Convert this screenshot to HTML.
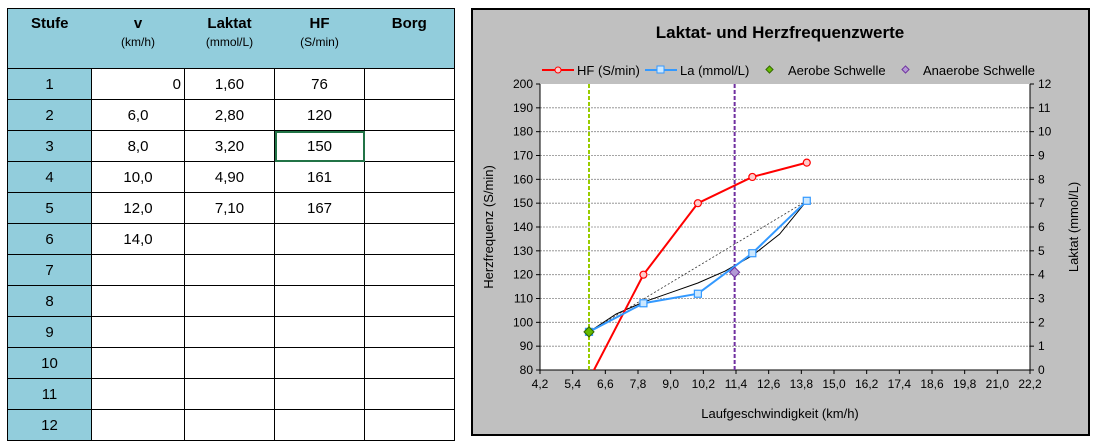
<!DOCTYPE html>
<html><head><meta charset="utf-8"><style>
body{margin:0;width:1098px;height:446px;background:#fff;font-family:"Liberation Sans",sans-serif;position:relative;overflow:hidden}
table{position:absolute;left:7px;top:8px;border-collapse:collapse;}
td{border:1px solid #000;height:30px;padding:0;text-align:center;font-size:15px;}
td.s{background:#92CDDC;width:83px}
td.c{width:89px}
tr.h td{background:#92CDDC;height:53px;vertical-align:top;font-weight:bold;font-size:15px;padding-top:6px;border-bottom:1px solid #000;border-left:none;border-right:none}
tr.h td:first-child{border-left:1px solid #000}
tr.h td:last-child{border-right:1px solid #000}
tr.h small{display:block;font-weight:normal;font-size:12px;margin-top:3px}
td.sel{outline:2px solid #217346;outline-offset:-2px}
</style></head><body>
<table>
<tr class="h"><td>Stufe</td><td>v<small>(km/h)</small></td><td>Laktat<small>(mmol/L)</small></td><td>HF<small>(S/min)</small></td><td>Borg</td></tr>
<tr><td class="s">1</td><td class="c" style="text-align:right;padding-right:3px">0</td><td class="c">1,60</td><td class="c">76</td><td class="c"></td></tr>
<tr><td class="s">2</td><td class="c">6,0</td><td class="c">2,80</td><td class="c">120</td><td class="c"></td></tr>
<tr><td class="s">3</td><td class="c">8,0</td><td class="c">3,20</td><td class="c sel">150</td><td class="c"></td></tr>
<tr><td class="s">4</td><td class="c">10,0</td><td class="c">4,90</td><td class="c">161</td><td class="c"></td></tr>
<tr><td class="s">5</td><td class="c">12,0</td><td class="c">7,10</td><td class="c">167</td><td class="c"></td></tr>
<tr><td class="s">6</td><td class="c">14,0</td><td class="c"></td><td class="c"></td><td class="c"></td></tr>
<tr><td class="s">7</td><td class="c"></td><td class="c"></td><td class="c"></td><td class="c"></td></tr>
<tr><td class="s">8</td><td class="c"></td><td class="c"></td><td class="c"></td><td class="c"></td></tr>
<tr><td class="s">9</td><td class="c"></td><td class="c"></td><td class="c"></td><td class="c"></td></tr>
<tr><td class="s">10</td><td class="c"></td><td class="c"></td><td class="c"></td><td class="c"></td></tr>
<tr><td class="s">11</td><td class="c"></td><td class="c"></td><td class="c"></td><td class="c"></td></tr>
<tr><td class="s">12</td><td class="c"></td><td class="c"></td><td class="c"></td><td class="c"></td></tr>
</table>
<svg id="chart" width="1098" height="446" style="position:absolute;left:0;top:0" font-family="Liberation Sans, sans-serif">
<rect x="472" y="9" width="617" height="426" fill="#C0C0C0" stroke="#000" stroke-width="2"/>
<text x="780" y="38" text-anchor="middle" font-size="17" font-weight="bold">Laktat- und Herzfrequenzwerte</text>
<rect x="540" y="84" width="490" height="286" fill="#fff"/>
<g id="grid"></g><g id="axes"></g><g id="series"></g>
<text x="780" y="418" text-anchor="middle" font-size="13">Laufgeschwindigkeit (km/h)</text>
<text transform="translate(493,227) rotate(-90)" text-anchor="middle" font-size="13">Herzfrequenz (S/min)</text>
<text transform="translate(1078,227) rotate(-90)" text-anchor="middle" font-size="13">Laktat (mmol/L)</text>
<g font-size="13">
<line x1="542" y1="70" x2="574" y2="70" stroke="#f00" stroke-width="2"/><circle cx="558" cy="70" r="3" fill="#fcc" stroke="#f00"/>
<text x="577" y="75">HF (S/min)</text>
<line x1="645" y1="70" x2="677" y2="70" stroke="#3399ff" stroke-width="2"/><rect x="657" y="66" width="7" height="7" fill="#cce8ff" stroke="#3399ff"/>
<text x="680" y="75">La (mmol/L)</text>
<rect x="767" y="67" width="5" height="5" fill="#66bb00" stroke="#336600" transform="rotate(45 769.5 69.5)"/>
<text x="788" y="75">Aerobe Schwelle</text>
<rect x="903" y="67" width="5" height="5" fill="#b399d4" stroke="#7030a0" transform="rotate(45 905.5 69.5)"/>
<text x="923" y="75">Anaerobe Schwelle</text>
</g>
</svg>
<script>
const speeds=[6,8,10,12,14];
const hfValues=[76,120,150,161,167];
const laValues=[1.6,2.8,3.2,4.9,7.1];
const fitSpeeds=[6,7,8,9,10,11,12,13,14];
const fitValues=[1.6,2.35,2.85,3.25,3.65,4.15,4.8,5.7,7.1];
const aerobe=[6,1.6];
const anaerobe=[11.35,4.1];
const xTicks=["4,2","5,4","6,6","7,8","9,0","10,2","11,4","12,6","13,8","15,0","16,2","17,4","18,6","19,8","21,0","22,2"];
const yLeftTicks=[80,90,100,110,120,130,140,150,160,170,180,190,200];
const yRightTicks=[0,1,2,3,4,5,6,7,8,9,10,11,12];
const X0=540,X1=1030,Y0=370,Y1=84;
const xs=v=>X0+(v-4.2)/(22.2-4.2)*(X1-X0);
const yl=v=>Y0-(v-80)/120*(Y0-Y1);
const yr=v=>Y0-v/12*(Y0-Y1);
const NS="http://www.w3.org/2000/svg";
function mk(p,t,a){const e=document.createElementNS(NS,t);for(const k in a)e.setAttribute(k,a[k]);p.appendChild(e);return e;}
const grid=document.getElementById('grid'),axes=document.getElementById('axes'),ser=document.getElementById('series');
yLeftTicks.forEach((v,i)=>{const y=yl(v);
 if(i>0&&i<yLeftTicks.length-1){const g=mk(grid,'line',{x1:X0,x2:X1,y1:y,y2:y,stroke:'#888','stroke-dasharray':'2,1','stroke-width':0.8});
 
 }
 mk(axes,'line',{x1:X0-4,x2:X0,y1:y,y2:y,stroke:'#000'});
 const t=mk(axes,'text',{x:X0-7,y:y+4,'text-anchor':'end','font-size':12});t.textContent=v;
 
 });
yRightTicks.forEach(v=>{const y=yr(v);
 mk(axes,'line',{x1:X1,x2:X1+4,y1:y,y2:y,stroke:'#000'});
 const t=mk(axes,'text',{x:X1+8,y:y+4,'font-size':12});t.textContent=v;
 
 });
xTicks.forEach(s=>{const x=xs(parseFloat(s.replace(',','.')));
 mk(axes,'line',{x1:x,x2:x,y1:Y0,y2:Y0+4,stroke:'#000'});
 const t=mk(axes,'text',{x:x,y:Y0+18,'text-anchor':'middle','font-size':12});t.textContent=s;
 
 });
mk(axes,'line',{x1:X0,x2:X0,y1:Y1,y2:Y0,stroke:'#000'});
mk(axes,'line',{x1:X1,x2:X1,y1:Y1,y2:Y0,stroke:'#000'});
mk(axes,'line',{x1:X0,x2:X1,y1:Y0,y2:Y0,stroke:'#000'});
const clip=mk(ser,'clipPath',{id:'pc'});mk(clip,'rect',{x:X0,y:Y1,width:X1-X0,height:Y0-Y1});
const g=mk(ser,'g',{'clip-path':'url(#pc)'});
let l=mk(g,'line',{x1:xs(aerobe[0]),x2:xs(aerobe[0]),y1:Y1,y2:Y0,stroke:'#99cc00','stroke-width':2,'stroke-dasharray':'4,2'});


l=mk(g,'line',{x1:xs(anaerobe[0]),x2:xs(anaerobe[0]),y1:Y1,y2:Y0,stroke:'#7030a0','stroke-width':2,'stroke-dasharray':'4,2'});


l=mk(g,'line',{x1:xs(speeds[0]),y1:yr(laValues[0]),x2:xs(speeds[speeds.length-1]),y2:yr(laValues[laValues.length-1]),stroke:'#333','stroke-dasharray':'2,2','stroke-width':0.8});


l=mk(g,'polyline',{points:fitSpeeds.map((s,i)=>xs(s)+','+yr(fitValues[i])).join(' '),fill:'none',stroke:'#000','stroke-width':1});


l=mk(g,'polyline',{points:speeds.map((s,i)=>xs(s)+','+yl(hfValues[i])).join(' '),fill:'none',stroke:'#f00','stroke-width':2});


l=mk(g,'polyline',{points:speeds.map((s,i)=>xs(s)+','+yr(laValues[i])).join(' '),fill:'none',stroke:'#3399ff','stroke-width':2});


speeds.forEach((s,i)=>{const c=mk(g,'circle',{cx:xs(s),cy:yl(hfValues[i]),r:3.5,fill:'#fcc',stroke:'#f00','stroke-width':1.2});
 
 
 const r=mk(g,'rect',{x:xs(s)-3.5,y:yr(laValues[i])-3.5,width:7,height:7,fill:'#cce8ff',stroke:'#3399ff','stroke-width':1.2});
 
 });
[[aerobe,'#66bb00','#336600','aerobe-point'],[anaerobe,'#b399d4','#7030a0','anaerobe-point']].forEach(([p,f,s,n])=>{const x=xs(p[0]),y=yr(p[1]);
 const d=mk(ser,'polygon',{points:`${x},${y-5} ${x+5},${y} ${x},${y+5} ${x-5},${y}`,fill:f,stroke:s});
 
 });
</script>
</body></html>
